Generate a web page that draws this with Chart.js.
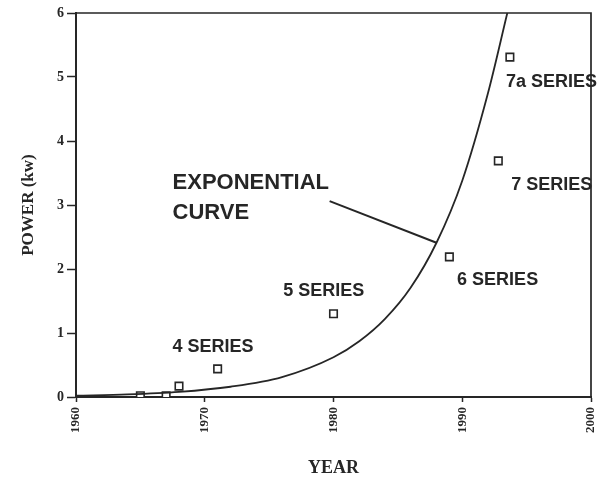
<!DOCTYPE html>
<html>
<head>
<meta charset="utf-8">
<script src="https://cdn.jsdelivr.net/npm/chart.js@4/dist/chart.umd.min.js"></script>
<style>
  html, body { margin: 0; padding: 0; background: #fff; }
  #wrap { width: 608px; height: 479px; }
</style>
</head>
<body>
<div id="wrap"><canvas id="c"></canvas></div>
<script>
// Power growth by model series, with the fitted exponential curve.

const seriesYears = [1965, 1967, 1968, 1971, 1980, 1989, 1992.8, 1993.7];
const seriesPower = [0.02, 0.02, 0.17, 0.44, 1.30, 2.19, 3.69, 5.31];

// exponential curve
const curveYears = [1960, 1964, 1968, 1972, 1976, 1980, 1982, 1984, 1986, 1988, 1990, 1992, 1993.5];
const curvePower = [0.02, 0.04, 0.08, 0.16, 0.31, 0.62, 0.87, 1.22, 1.71, 2.41, 3.38, 4.75, 6.0];

// callout leader from the "EXPONENTIAL CURVE" text to the curve
const leaderYears = [1979.7, 1988.0];
const leaderPower = [3.06, 2.41];

// text labels (left edge, vertical middle) in data units
const labelText  = ['4 SERIES', '5 SERIES', '6 SERIES', '7 SERIES', '7a SERIES'];
const labelYear  = [1967.5, 1976.1, 1989.6, 1993.8, 1993.4];
const labelPower = [0.78, 1.66, 1.83, 3.31, 4.92];

const calloutText  = ['EXPONENTIAL', 'CURVE'];
const calloutYear  = [1967.5, 1967.5];
const calloutPower = [3.34, 2.88];

const yearTicks  = [1960, 1970, 1980, 1990, 2000];
const powerTicks = [0, 1, 2, 3, 4, 5, 6];

const INK = '#262626';
const SANS = '"Liberation Sans", Arial, Helvetica, sans-serif';
const SERIF = '"Liberation Serif", "Times New Roman", serif';

const pts = (xs, ys) => xs.map((x, i) => ({ x, y: ys[i] }));

const annotate = {
  id: 'annotate',
  afterDatasetsDraw(chart) {
    const { ctx, chartArea: a, scales: { x, y } } = chart;
    ctx.save();
    // top and right frame
    ctx.strokeStyle = INK;
    ctx.lineWidth = 1.7;
    ctx.beginPath();
    ctx.moveTo(a.left, a.top);
    ctx.lineTo(a.right, a.top);
    ctx.lineTo(a.right, a.bottom);
    ctx.stroke();

    ctx.fillStyle = INK;
    ctx.textAlign = 'left';
    ctx.textBaseline = 'middle';
    ctx.font = `bold 18px ${SANS}`;
    labelText.forEach((t, i) => {
      ctx.fillText(t, x.getPixelForValue(labelYear[i]), y.getPixelForValue(labelPower[i]));
    });
    ctx.font = `bold 22px ${SANS}`;
    calloutText.forEach((t, i) => {
      ctx.fillText(t, x.getPixelForValue(calloutYear[i]), y.getPixelForValue(calloutPower[i]));
    });
    ctx.restore();
  }
};

new Chart(document.getElementById('c'), {
  type: 'scatter',
  data: {
    datasets: [
      {
        label: 'Exponential curve', data: pts(curveYears, curvePower), showLine: true,
        borderColor: INK, borderWidth: 1.8, pointRadius: 0, cubicInterpolationMode: 'monotone',
      },
      {
        label: 'Leader', data: pts(leaderYears, leaderPower), showLine: true,
        borderColor: INK, borderWidth: 2, pointRadius: 0,
      },
      {
        label: 'Series', data: pts(seriesYears, seriesPower), showLine: false,
        pointStyle: 'rect', pointRadius: 5.3, borderColor: INK, borderWidth: 1.6,
        backgroundColor: '#fff',
      },
    ],
  },
  options: {
    animation: false, responsive: true, maintainAspectRatio: false,
    layout: { padding: { top: 13, right: 17, left: 0, bottom: 0 } },
    plugins: { legend: { display: false }, tooltip: { enabled: false } },
    scales: {
      x: {
        type: 'linear', min: 1960, max: 2000,
        afterBuildTicks: s => { s.ticks = yearTicks.map(v => ({ value: v })); },
        afterFit: s => { s.height = 82; s.paddingLeft = 0; s.paddingRight = 0; },
        border: { color: INK, width: 2 },
        grid: { drawOnChartArea: false, drawTicks: true, tickLength: 5, color: INK, tickWidth: 1.5 },
        ticks: {
          color: INK, minRotation: 90, maxRotation: 90, padding: 5,
          font: { family: SERIF, size: 13, weight: 'bold' },
          callback: v => String(v),
        },
        title: {
          display: true, text: 'YEAR', color: INK,
          font: { family: SERIF, size: 18, weight: 'bold' },
          padding: { top: 0, bottom: 0 },
        },
      },
      y: {
        min: 0, max: 6,
        afterBuildTicks: s => { s.ticks = powerTicks.map(v => ({ value: v })); },
        afterFit: s => { s.width = 76; },
        border: { color: INK, width: 2 },
        grid: { drawOnChartArea: false, drawTicks: true, tickLength: 9, color: INK, tickWidth: 1.5 },
        ticks: {
          color: INK, padding: 3,
          font: { family: SERIF, size: 14, weight: 'bold' },
        },
        title: {
          display: true, text: 'POWER (kw)', color: INK,
          font: { family: SERIF, size: 17, weight: 'bold' },
          padding: { top: 18, bottom: 0 },
        },
      },
    },
  },
  plugins: [annotate],
});
</script>
</body>
</html>
